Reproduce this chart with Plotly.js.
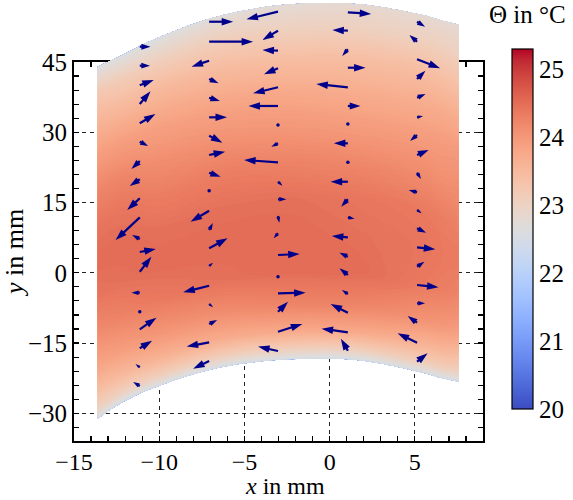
<!DOCTYPE html>
<html><head><meta charset="utf-8">
<script src="https://cdn.plot.ly/plotly-3.0.1.min.js"></script>
<style>html,body{margin:0;padding:0;background:#fff}</style>
</head><body><div id="chart" style="width:573px;height:500px"></div>
<script>
// ---- measured field: columns (x in mm), upper / lower edge of the measured area (y in mm)
const colX    = [-13.62, -12.10, -10.15, -6.25, -2.34, 1.56, 5.46, 6.63, 7.57];
const edgeTop = [44.0, 46.6, 50.06, 55.03, 57.32, 57.38, 55.03, 53.82, 53.0];
const edgeBot = [-31.28, -27.52, -24.32, -20.05, -18.47, -18.62, -21.33, -22.53, -23.25];
// relative height inside the area (0 = lower edge, 1 = upper edge)
const etaRows = [0, 0.03, 0.08, 0.15, 0.25, 0.35, 0.45, 0.55, 0.65, 0.75, 0.85, 0.93, 1];
// temperature Θ in °C, one row per etaRows entry, one value per colX entry
const tempRows = [
  [22.5, 22.5, 22.5, 22.5, 22.5, 22.5, 22.5, 22.5, 22.5],
  [23.0, 23.05, 23.1, 23.1, 23.1, 23.1, 23.1, 23.1, 23.05],
  [23.4, 23.5, 23.6, 23.7, 23.75, 23.75, 23.6, 23.55, 23.5],
  [23.8, 23.9, 24.0, 24.1, 24.2, 24.2, 24.05, 24.0, 23.95],
  [24.15, 24.25, 24.35, 24.45, 24.5, 24.5, 24.35, 24.3, 24.25],
  [24.4, 24.45, 24.5, 24.5, 24.5, 24.45, 24.4, 24.35, 24.35],
  [24.5, 24.5, 24.45, 24.45, 24.45, 24.4, 24.35, 24.3, 24.25],
  [24.4, 24.4, 24.3, 24.3, 24.25, 24.2, 24.15, 24.1, 24.1],
  [24.2, 24.2, 24.1, 24.05, 24.0, 23.95, 23.95, 23.95, 23.95],
  [23.9, 23.9, 23.85, 23.8, 23.75, 23.7, 23.7, 23.7, 23.65],
  [23.55, 23.5, 23.5, 23.45, 23.4, 23.4, 23.4, 23.35, 23.3],
  [23.2, 23.15, 23.1, 23.1, 23.05, 23.05, 23.05, 23.05, 23.0],
  [22.6, 22.6, 22.6, 22.7, 22.75, 22.8, 22.8, 22.8, 22.8]
];

// ---- velocity arrows: tail position (mm) and vector components (mm)
const arrowX = [].concat(
  Array(19).fill(-11.14), Array(19).fill(-7.07), Array(19).fill(-3.03),
  Array(19).fill(1.07), Array(19).fill(5.13));
const arrowY = [
  48.27, 44.21, 40.03, 36.03, 31.91, 27.98, 23.86, 19.96, 15.90, 11.84, 7.21, 4.44, 0.23, -4.25, -8.31, -12.07, -16.12, -20.18, -24.17,
  53.60, 49.33, 45.28, 41.37, 37.38, 33.19, 29.27, 25.15, 21.37, 17.52, 13.25, 9.13, 5.22, 1.45, -2.76, -6.67, -10.94, -14.84, -18.84,
  55.74, 51.68, 47.41, 43.65, 39.60, 35.61, 31.55, 27.64, 23.59, 19.44, 15.69, 12.12, 8.43, 3.80, -0.84, -4.38, -8.31, -12.58, -16.70,
  55.61, 51.68, 47.71, 43.78, 39.60, 35.61, 31.76, 27.64, 23.59, 19.44, 15.69, 11.84, 7.57, 3.43, -0.47, -4.53, -8.52, -12.71, -16.64,
  53.60, 49.33, 45.58, 41.37, 37.38, 33.19, 29.41, 25.15, 21.37, 17.18, 13.40, 9.50, 5.44, 1.30, -2.61, -6.52, -10.66, -14.93, -18.98];
const arrowU = [
  0.63, 0.60, 0.82, 0.63, 0.92, 0.49, -0.49, -0.59, -0.74, -1.42, -0.45, 0.94, 0.68, -0.49, 0, 0.98, 0.72, -0.25, -0.39,
  1.41, 2.58, -1.03, 0.55, 0.63, 1.05, 0.78, 0.94, 0.67, 0, -1.09, 0.22, 1.08, 0.23, -1.52, 0.23, 0.47, -1.32, -0.94,
  -1.85, -0.91, -0.91, -0.82, -1.46, -1.73, 0, -0.39, -1.99, 0.26, 0.49, 0.08, -0.25, 1.27, 0, 1.62, 0.59, 1.43, -1.17,
  1.37, -0.91, -0.33, 1.04, -1.85, 0.74, 0, -0.82, 0, -1.01, -0.39, 0.39, -0.94, -0.49, -0.49, -0.35, -1.01, -1.54, -0.41,
  0.47, -0.45, 1.35, 0.49, 0.50, 0.35, -0.41, 0.68, 0.23, -0.49, 0.27, 0.53, 1.07, 0.43, 1.26, 0.47, -0.55, -1.14, 0.62];
const arrowV = [
  0, 0, 1.13, 2.71, 1.99, -0.92, -1.71, -1.43, -2.50, -4.85, 0.85, 0.64, 3.20, 0, 0, 2.48, 1.62, 0.70, 0.85,
  0, 0, -1.28, -0.92, -0.70, 0, -1.49, 0.70, -0.85, 0, -2.35, 1.49, 2.13, 0.70, -1.41, -0.70, 0.85, -0.92, -1.62,
  -1.62, -1.99, 0.15, -1.28, -1.28, 0, 0, -0.73, 0.49, -0.85, 0, -1.43, -1.07, 0.21, 0, 0.13, 2.13, 1.64, 0.94,
  -0.36, 0.15, -1.43, 0, 0.70, 0, 0, 0, 0, 0, -1.58, -0.30, 0.28, 0.85, 1.43, 0.85, 1.86, 0.77, 2.56,
  -1.07, 1.43, -1.92, 1.77, 0.79, 0.28, -1.28, 1.07, -1.35, 0.49, -0.70, -0.94, -0.43, 1.07, -0.49, 0, 1.43, 2.01, 1.79];

// ---- axes
const xTicks = [-15, -10, -5, 0, 5];
const yTicks = [-30, -15, 0, 15, 30, 45];
const cbTicks = [20, 21, 22, 23, 24, 25];
const xRange = [-15, 9];
const yRange = [-35.91, 45];
const tRange = [20, 25.3];

// coolwarm colour map
const coolwarm = [[59,76,192],[68,90,204],[77,104,215],[87,117,225],[98,130,234],[108,142,241],[119,154,247],[130,165,251],[141,176,254],[152,185,255],[163,194,255],[174,201,253],[184,208,249],[194,213,244],[204,217,238],[213,219,230],[221,221,221],[229,216,209],[236,211,197],[241,204,184],[245,196,172],[247,187,159],[247,177,147],[247,166,134],[244,154,123],[241,141,111],[236,127,99],[229,112,89],[222,96,78],[213,80,69],[203,62,60],[192,40,51],[180,4,38]];
const cscale = coolwarm.map((c, i) => [i / (coolwarm.length - 1), 'rgb(' + c.join(',') + ')']);

// ---- geometry of the figure
const W = 573, H = 500;
const M = {l: 74, r: 89.6, t: 0, b: 59};
const plotW = W - M.l - M.r, plotH = H - M.t - M.b;
const boxH = 379;                       // height of the framed axes box
const boxFrac = boxH / plotH;
const y2Top = yRange[0] + (yRange[1] - yRange[0]) / boxFrac;
const sx = plotW / (xRange[1] - xRange[0]);
const sy = plotH / (y2Top - yRange[0]);

// carpet grid built from the edges
const gridX = etaRows.map(() => colX.slice());
const gridY = etaRows.map(e => colX.map((_, i) => edgeBot[i] + e * (edgeTop[i] - edgeBot[i])));

// arrows
const arrowColor = '#00008b';
const ax = [], ay = [], asz = [], dotX = [], dotY = [];
for (let i = 0; i < arrowX.length; i++) {
  const L = Math.hypot(arrowU[i] * sx, arrowV[i] * sy);
  if (L < 2) { dotX.push(arrowX[i]); dotY.push(arrowY[i]); continue; }
  ax.push(arrowX[i], arrowX[i] + arrowU[i], null);
  ay.push(arrowY[i], arrowY[i] + arrowV[i], null);
  const head = Math.min(11.5, 0.85 * L);
  asz.push(0.01, head / 0.951, 0);
}

const font = {family: 'Liberation Serif, Times New Roman, serif', color: '#000'};

const traces = [
  {type: 'carpet', carpet: 'c1', a: colX, b: etaRows, x: gridX, y: gridY,
   xaxis: 'x2', yaxis: 'y2', color: 'rgba(0,0,0,0)',
   aaxis: {showgrid: false, showline: false, startline: false, endline: false,
           showticklabels: 'none', minorgridcount: 0, smoothing: 1, gridcolor: 'rgba(0,0,0,0)', linecolor: 'rgba(0,0,0,0)'},
   baxis: {showgrid: false, showline: false, startline: false, endline: false,
           showticklabels: 'none', minorgridcount: 0, smoothing: 1, gridcolor: 'rgba(0,0,0,0)', linecolor: 'rgba(0,0,0,0)'}},
  {type: 'contourcarpet', carpet: 'c1', a: colX, b: etaRows, z: tempRows,
   xaxis: 'x2', yaxis: 'y2', autocontour: false,
   contours: {start: tRange[0], end: tRange[1], size: 0.03, coloring: 'fill', showlines: false},
   line: {width: 0}, colorscale: cscale, zmin: tRange[0], zmax: tRange[1], showscale: false,
   hoverinfo: 'skip'},
  {type: 'scatter', mode: 'lines+markers', x: ax, y: ay, xaxis: 'x2', yaxis: 'y2',
   line: {color: arrowColor, width: 2.2},
   marker: {symbol: 'arrow', angleref: 'previous', size: asz, color: arrowColor, opacity: 1, line: {width: 0}},
   hoverinfo: 'skip', showlegend: false, cliponaxis: false},
  {type: 'scatter', mode: 'markers', x: dotX, y: dotY, xaxis: 'x2', yaxis: 'y2',
   marker: {symbol: 'circle', size: 3.5, color: arrowColor, opacity: 1, line: {width: 0}},
   hoverinfo: 'skip', showlegend: false},
  {type: 'scatter', mode: 'markers', x: [-100], y: [-100], xaxis: 'x', yaxis: 'y',
   marker: {color: [tRange[0]], colorscale: cscale, cmin: tRange[0], cmax: tRange[1], opacity: 0,
     showscale: true,
     colorbar: {x: (512.7 - M.l) / plotW, xanchor: 'left', xref: 'paper', xpad: 0,
       y: (plotH - 409) / plotH, yanchor: 'bottom', ypad: 0, len: 360 / plotH, lenmode: 'fraction',
       thickness: 20.6, thicknessmode: 'pixels', outlinewidth: 1.2, outlinecolor: '#000',
       ticks: '', tickmode: 'array', tickvals: cbTicks, tickfont: {size: 25}, ticklabelstandoff: 2,
       title: {text: ''}}},
   hoverinfo: 'skip', showlegend: false}
];

const axStyle = {ticks: 'inside', ticklen: 5, tickwidth: 1.2, tickcolor: '#000',
  showline: true, linewidth: 2, linecolor: '#000', mirror: 'allticks',
  showgrid: true, gridcolor: '#222', gridwidth: 1, griddash: '4px,4px',
  zeroline: false, tickfont: {size: 25}, tickmode: 'array', fixedrange: true};

const layout = {
  width: W, height: H, margin: M, font: font, showlegend: false,
  paper_bgcolor: '#fff', plot_bgcolor: 'rgba(0,0,0,0)',
  xaxis: Object.assign({}, axStyle, {domain: [0, 1], anchor: 'y', range: xRange, tickvals: xTicks,
    tickfont: {size: 24}, ticklabelstandoff: -2,
    minor: {dtick: 1, tick0: 0, ticks: 'inside', ticklen: 5, tickwidth: 1.2, tickcolor: '#000', showgrid: false}}),
  yaxis: Object.assign({}, axStyle, {domain: [0, boxFrac], anchor: 'x', range: yRange, tickvals: yTicks,
    minor: {dtick: 3, tick0: 0, ticks: 'inside', ticklen: 5, tickwidth: 1.2, tickcolor: '#000', showgrid: false},
    title: {text: '<i>y</i> in mm', font: {size: 26}, standoff: 6}}),
  xaxis2: {domain: [0, 1], anchor: 'y2', range: xRange, visible: false, fixedrange: true},
  yaxis2: {domain: [0, 1], anchor: 'x2', range: [yRange[0], y2Top], visible: false, fixedrange: true},
  annotations: [
    {text: 'Θ in °C', xref: 'paper', yref: 'paper', x: (527.5 - M.l) / plotW, y: 1,
     xanchor: 'center', yanchor: 'top', borderpad: 0, showarrow: false, font: {size: 25}},
    {text: '<i>x</i> in mm', xref: 'paper', yref: 'paper', x: (285 - M.l) / plotW, y: -M.b / plotH,
     xanchor: 'center', yanchor: 'bottom', borderpad: 0, showarrow: false, font: {size: 24}}]
};

Plotly.newPlot('chart', traces, layout, {staticPlot: true, displayModeBar: false});
</script></body></html>
